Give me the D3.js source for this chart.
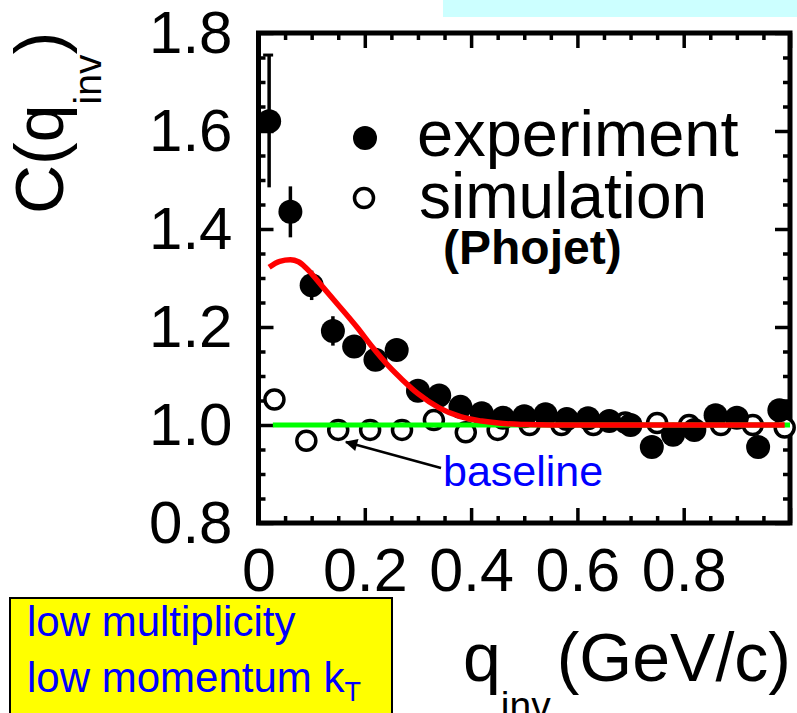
<!DOCTYPE html>
<html>
<head>
<meta charset="utf-8">
<script src="https://cdn.jsdelivr.net/npm/d3@7/dist/d3.min.js"></script>
<style>
  html, body { margin: 0; padding: 0; background: #fff; overflow: hidden; }
  svg { display: block; font-family: "Liberation Sans", Arial, Helvetica, sans-serif; }
</style>
</head>
<body>
<svg id="chart" width="797" height="713"></svg>
<script>
// Correlation function C(q_inv): measured points, Phojet simulation, fit and baseline
const expQ   = [0.02, 0.06, 0.10, 0.14, 0.18, 0.22, 0.26, 0.30, 0.34, 0.38, 0.42, 0.46, 0.50,
                0.54, 0.58, 0.62, 0.66, 0.70, 0.74, 0.78, 0.82, 0.86, 0.90, 0.94, 0.98];
const expC   = [1.620, 1.435, 1.285, 1.192, 1.160, 1.133, 1.153, 1.070, 1.060, 1.037, 1.024, 1.015, 1.018,
                1.022, 1.012, 1.014, 1.008, 1.000, 0.955, 0.980, 0.990, 1.020, 1.015, 0.955, 1.030];
const expErr = [0.135, 0.052, 0.030, 0.030, 0.020, 0.020, 0.020, 0.018, 0.016, 0.015, 0.015, 0.015, 0.015,
                0.015, 0.015, 0.015, 0.015, 0.015, 0.015, 0.015, 0.015, 0.015, 0.015, 0.015, 0.015];

const simQ = [0.03, 0.09, 0.15, 0.21, 0.27, 0.33, 0.39, 0.45, 0.51, 0.57, 0.63, 0.69, 0.75, 0.81, 0.87, 0.93, 0.99];
const simC = [1.052, 0.968, 0.990, 0.990, 0.990, 1.010, 0.985, 0.990, 1.000, 1.000, 1.000, 1.005, 1.004,
              1.000, 1.000, 1.000, 0.995];

const fitQ = [0.02, 0.04, 0.06, 0.075, 0.09, 0.12, 0.15, 0.185, 0.215, 0.245, 0.27, 0.30, 0.34, 0.38,
              0.42, 0.46, 0.50, 0.55, 0.60, 0.70, 0.80, 0.90, 0.99];
const fitC = [1.322, 1.334, 1.337, 1.333, 1.320, 1.283, 1.245, 1.200, 1.158, 1.120, 1.093, 1.064, 1.035, 1.017,
              1.008, 1.003, 1.001, 1.000, 1.000, 1.000, 1.000, 1.000, 1.000];

const baseQ = [0.027, 1.0];
const baseC = [1.0, 1.0];

const xTickValues = [0, 0.2, 0.4, 0.6, 0.8, 1.0];
const xTickLabels = ["0", "0.2", "0.4", "0.6", "0.8", "1"];
const yTickValues = [0.8, 1.0, 1.2, 1.4, 1.6, 1.8];
const yTickLabels = ["0.8", "1.0", "1.2", "1.4", "1.6", "1.8"];

const svg = d3.select("#chart");

const x = d3.scaleLinear().domain([0, 1]).range([258.5, 790]);
const y = d3.scaleLinear().domain([0.8, 1.8]).range([523, 33]);

// header strip
svg.append("rect").attr("x", 443).attr("y", 0).attr("width", 354).attr("height", 17).attr("fill", "#ccffff");

const minorX = d3.range(0, 21).map(i => i / 20).filter(v => Math.round(v * 20) % 4 !== 0);
const minorY = d3.range(16, 37).map(i => i / 20).filter(v => Math.round(v * 20) % 4 !== 0);

function styleAxis(g) {
  g.select(".domain").remove();
  g.selectAll(".tick line").attr("stroke", "#000").attr("stroke-width", 3.5);
}

const fmtX = v => xTickLabels[xTickValues.findIndex(t => Math.abs(t - v) < 1e-9)];
const fmtY = v => yTickLabels[yTickValues.findIndex(t => Math.abs(t - v) < 1e-9)];

// bottom axis: minor + major ticks pointing inward, labelled majors
svg.append("g").attr("transform", "translate(0,523)")
  .call(d3.axisBottom(x).tickValues(minorX).tickSize(-7).tickFormat(""))
  .call(styleAxis);
const gxb = svg.append("g").attr("transform", "translate(0,523)")
  .call(d3.axisBottom(x).tickValues(xTickValues).tickSize(-15).tickPadding(25).tickFormat(fmtX))
  .call(styleAxis);
gxb.selectAll("text").attr("font-size", 61).attr("fill", "#000").attr("font-family", "Liberation Sans, Arial, sans-serif");
gxb.selectAll(".tick").filter(d => d === 1).select("text").attr("text-anchor", "start").attr("dx", 2);

// top axis
svg.append("g").attr("transform", "translate(0,33)")
  .call(d3.axisTop(x).tickValues(minorX).tickSize(-7).tickFormat(""))
  .call(styleAxis);
svg.append("g").attr("transform", "translate(0,33)")
  .call(d3.axisTop(x).tickValues(xTickValues).tickSize(-15).tickFormat(""))
  .call(styleAxis);

// left axis
svg.append("g").attr("transform", "translate(258.5,0)")
  .call(d3.axisLeft(y).tickValues(minorY).tickSize(-7).tickFormat(""))
  .call(styleAxis);
const gyl = svg.append("g").attr("transform", "translate(258.5,0)")
  .call(d3.axisLeft(y).tickValues(yTickValues).tickSize(-15).tickPadding(26).tickFormat(fmtY))
  .call(styleAxis);
gyl.selectAll("text").attr("font-size", 60).attr("fill", "#000").attr("font-family", "Liberation Sans, Arial, sans-serif");

// right axis
svg.append("g").attr("transform", "translate(790,0)")
  .call(d3.axisRight(y).tickValues(minorY).tickSize(-7).tickFormat(""))
  .call(styleAxis);
svg.append("g").attr("transform", "translate(790,0)")
  .call(d3.axisRight(y).tickValues(yTickValues).tickSize(-15).tickFormat(""))
  .call(styleAxis);

// frame
svg.append("rect").attr("x", 258.5).attr("y", 33).attr("width", 790 - 258.5).attr("height", 523 - 33)
  .attr("fill", "none").attr("stroke", "#000").attr("stroke-width", 5);

const plot = svg.append("g");

// error bars of the measurement
const expData = expQ.map((q, i) => ({ q, c: expC[i], e: expErr[i] }));
plot.selectAll("line.err").data(expData).join("line").attr("class", "err")
  .attr("x1", d => x(d.q)).attr("x2", d => x(d.q))
  .attr("y1", d => y(d.c + d.e)).attr("y2", d => y(d.c - d.e))
  .attr("stroke", "#000").attr("stroke-width", 3.5);
plot.selectAll("line.cap").data(expData.filter((d, i) => i === 0)).join("line").attr("class", "cap")
  .attr("x1", d => x(d.q) - 6).attr("x2", d => x(d.q) + 4)
  .attr("y1", d => y(d.c + d.e)).attr("y2", d => y(d.c + d.e))
  .attr("stroke", "#000").attr("stroke-width", 3);

// simulation: open circles
const simData = simQ.map((q, i) => ({ q, c: simC[i] }));
plot.selectAll("circle.sim").data(simData).join("circle").attr("class", "sim")
  .attr("cx", d => x(d.q)).attr("cy", d => y(d.c)).attr("r", 9.5)
  .attr("fill", "#fff").attr("stroke", "#000").attr("stroke-width", 3.5);

// experiment: filled circles
plot.selectAll("circle.exp").data(expData).join("circle").attr("class", "exp")
  .attr("cx", d => x(d.q)).attr("cy", d => y(d.c)).attr("r", 12)
  .attr("fill", "#000");

// baseline and fit
const line = d3.line().x(d => x(d[0])).y(d => y(d[1]));
plot.append("path").datum(baseQ.map((q, i) => [q, baseC[i]]))
  .attr("d", line).attr("fill", "none").attr("stroke", "#00ff00").attr("stroke-width", 5);
plot.append("path").datum(fitQ.map((q, i) => [q, fitC[i]]))
  .attr("d", line.curve(d3.curveMonotoneX)).attr("fill", "none").attr("stroke", "#ff0000").attr("stroke-width", 5.5);

// legend
svg.append("circle").attr("cx", 365).attr("cy", 138).attr("r", 12).attr("fill", "#000");
svg.append("text").attr("x", 417).attr("y", 156).attr("font-size", 65).text("experiment");
svg.append("circle").attr("cx", 364).attr("cy", 198).attr("r", 9.5)
  .attr("fill", "#fff").attr("stroke", "#000").attr("stroke-width", 3.5);
svg.append("text").attr("x", 419).attr("y", 218).attr("font-size", 64).text("simulation");
svg.append("text").attr("x", 443).attr("y", 264).attr("font-size", 48).attr("font-weight", "bold").text("(Phojet)");

// baseline annotation
svg.append("defs").append("marker").attr("id", "arrowhead")
  .attr("viewBox", "0 0 10 10").attr("refX", 9).attr("refY", 5)
  .attr("markerWidth", 6).attr("markerHeight", 5).attr("markerUnits", "strokeWidth")
  .attr("orient", "auto")
  .append("path").attr("d", "M0,0L10,5L0,10Z").attr("fill", "#000");
svg.append("line").attr("x1", 441).attr("y1", 468).attr("x2", 346).attr("y2", 442)
  .attr("stroke", "#000").attr("stroke-width", 2.5).attr("marker-end", "url(#arrowhead)");
svg.append("text").attr("x", 443).attr("y", 486).attr("font-size", 43).attr("fill", "#0000ff").text("baseline");

// axis titles
const yt = svg.append("text").attr("transform", "translate(63,214) rotate(-90)")
  .attr("font-size", 68).attr("fill", "#000");
yt.append("tspan").text("C(q");
yt.append("tspan").attr("font-size", 39).attr("dy", 38).text("inv");
yt.append("tspan").attr("dy", -38).text(")");

const xt = svg.append("text").attr("x", 463).attr("y", 681).attr("font-size", 68).attr("fill", "#000");
xt.append("tspan").text("q");
xt.append("tspan").attr("font-size", 39).attr("dy", 38).text("inv");
xt.append("tspan").attr("dy", -38).attr("dx", 6).text("(GeV/c)");

// selection box
svg.append("rect").attr("x", 10).attr("y", 598).attr("width", 382).attr("height", 130)
  .attr("fill", "#ffff00").attr("stroke", "#000").attr("stroke-width", 2);
svg.append("text").attr("x", 27).attr("y", 636).attr("font-size", 42).attr("fill", "#0000ff").text("low multiplicity");
const kt = svg.append("text").attr("x", 27).attr("y", 692).attr("font-size", 42).attr("fill", "#0000ff");
kt.append("tspan").text("low momentum k");
kt.append("tspan").attr("font-size", 27).attr("dy", 9).text("T");
</script>
</body>
</html>
